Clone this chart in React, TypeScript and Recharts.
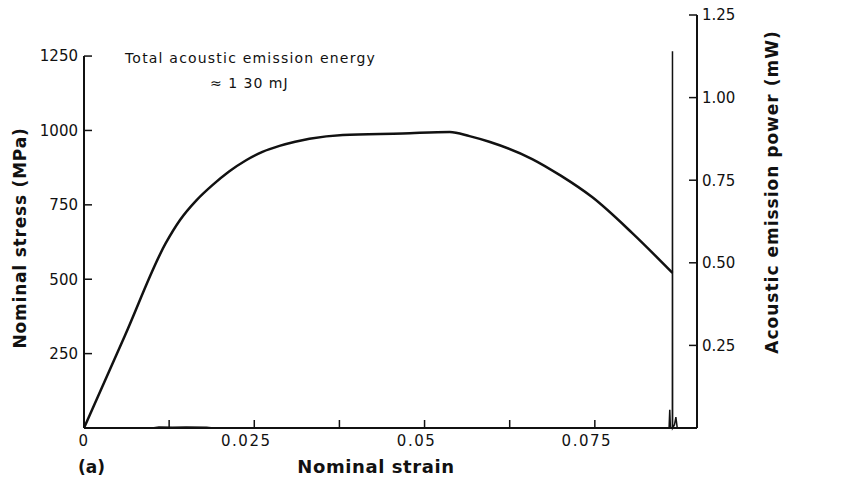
import { LineChart, Line, XAxis, YAxis, ReferenceLine } from 'recharts';

// stress–strain curve
const strain = [
  0, 0.006, 0.012, 0.0141, 0.0165, 0.0189, 0.0213, 0.0238, 0.0262, 0.0287, 0.031,
  0.0331, 0.038, 0.0468, 0.0537, 0.0566, 0.0595, 0.0658, 0.07, 0.0746, 0.0805, 0.0864,
];
const stress = [
  0, 310, 621, 699, 765, 817, 862, 900, 928, 948, 962, 972, 985, 990, 995, 981, 962,
  904, 848, 776, 655, 521,
];

// acoustic emission trace
const powerStrain = [
  0, 0.01, 0.011, 0.013, 0.015, 0.018, 0.019, 0.0855, 0.0859, 0.086, 0.0861, 0.08638, 0.0864,
  0.08642, 0.0867, 0.0869, 0.0871, 0.0873,
];
const power = [
  0, 0, 0.003, 0.002, 0.003, 0.002, 0, 0, 0, 0.055, 0, 0, 1.14, 0, 0.01, 0.033, 0, 0,
];

const strainTicks = [0, 0.0125, 0.025, 0.0375, 0.05, 0.0625, 0.075];
const strainTickLabels = ['0', '', '0.025', '', '0.05', '', '0.075'];
const stressTicks = [250, 500, 750, 1000, 1250];
const powerTicks = [0.25, 0.5, 0.75, 1, 1.25];

const stressData = strain.map((s, i) => ({ strain: s, stress: stress[i] }));
const powerData = powerStrain.map((s, i) => ({ strain: s, power: power[i] }));

const FONT = '"DejaVu Sans", sans-serif';
const INK = '#111';

// ticks point inward, so each tick draws its own little line
const StrainTick = (props: any) => {
  const { x, y, payload } = props;
  const idx = strainTicks.indexOf(payload.value);
  const label = idx >= 0 ? strainTickLabels[idx] : '';
  return (
    <g>
      {payload.value !== 0 && <line x1={x} x2={x} y1={y - 7} y2={y - 15} stroke={INK} strokeWidth={1.5} />}
      <text
        x={x - (payload.value ? 8 : 0)}
        y={y}
        dy="0.71em"
        textAnchor="middle"
        fontFamily={FONT}
        fontSize={15}
        letterSpacing={1.5}
        fill={INK}
      >
        {label}
      </text>
    </g>
  );
};

const StressTick = (props: any) => {
  const { x, y, payload } = props;
  return (
    <g>
      <line x1={x + 6} x2={x + 14} y1={y} y2={y} stroke={INK} strokeWidth={1.5} />
      <text x={x} y={y} dy="0.355em" textAnchor="end" fontFamily={FONT} fontSize={15} fill={INK}>
        {payload.value}
      </text>
    </g>
  );
};

const PowerTick = (props: any) => {
  const { x, y, payload } = props;
  return (
    <g>
      <line x1={x - 5} x2={x - 13} y1={y} y2={y} stroke={INK} strokeWidth={1.5} />
      <text x={x} y={y} dy="0.355em" textAnchor="start" fontFamily={FONT} fontSize={15} fill={INK}>
        {Number(payload.value).toFixed(2)}
      </text>
    </g>
  );
};

export default function App() {
  return (
    <div style={{ position: 'absolute', left: 0, top: 0, width: 843, height: 488, background: '#fff' }}>
      <LineChart width={843} height={488} margin={{ top: 15, right: 0, left: 0, bottom: 0 }}>
        <XAxis
          dataKey="strain"
          type="number"
          domain={[0, 0.09]}
          ticks={strainTicks}
          allowDuplicatedCategory={false}
          height={60}
          axisLine={{ stroke: INK, strokeWidth: 2 }}
          tickLine={false}
          tickSize={0}
          tickMargin={7}
          tick={<StrainTick />}
          interval={0}
        />
        <YAxis
          yAxisId="left"
          type="number"
          domain={[0, 1388]}
          ticks={stressTicks}
          width={84}
          axisLine={false}
          tickLine={false}
          tickSize={0}
          tickMargin={6}
          interval={0}
          tick={<StressTick />}
        />
        <YAxis
          yAxisId="right"
          orientation="right"
          type="number"
          domain={[0, 1.25]}
          ticks={powerTicks}
          width={146}
          axisLine={{ stroke: INK, strokeWidth: 2 }}
          tickLine={false}
          tickSize={0}
          tickMargin={5}
          interval={0}
          tick={<PowerTick />}
        />
        <ReferenceLine
          yAxisId="left"
          segment={[
            { x: 0, y: 0 },
            { x: 0, y: 1250 },
          ]}
          stroke={INK}
          strokeWidth={2}
          ifOverflow="visible"
        />
        <Line
          data={powerData}
          yAxisId="right"
          dataKey="power"
          type="linear"
          stroke={INK}
          strokeWidth={1.5}
          dot={false}
          isAnimationActive={false}
        />
        <Line
          data={stressData}
          yAxisId="left"
          dataKey="stress"
          type="monotone"
          stroke={INK}
          strokeWidth={2.5}
          dot={false}
          isAnimationActive={false}
        />
      </LineChart>
      <svg
        width={843}
        height={488}
        style={{ position: 'absolute', left: 0, top: 0, pointerEvents: 'none' }}
        fontFamily={FONT}
        fill={INK}
      >
        <text x={125} y={63} fontSize={14} letterSpacing={1.2}>
          Total acoustic emission energy
        </text>
        <text x={210} y={88} fontSize={14} letterSpacing={1}>
          ≈ 1 30 mJ
        </text>
        <text x={78} y={473} fontSize={17} fontWeight="bold">
          (a)
        </text>
        <text x={376} y={473} fontSize={18} fontWeight="bold" letterSpacing={0.6} textAnchor="middle">
          Nominal strain
        </text>
        <text
          x={26}
          y={238}
          fontSize={17}
          fontWeight="bold"
          letterSpacing={0.8}
          textAnchor="middle"
          transform="rotate(-90 26 238)"
        >
          Nominal stress (MPa)
        </text>
        <text
          x={778}
          y={192}
          fontSize={17}
          fontWeight="bold"
          letterSpacing={1}
          textAnchor="middle"
          transform="rotate(-90 778 192)"
        >
          Acoustic emission power (mW)
        </text>
      </svg>
    </div>
  );
}
